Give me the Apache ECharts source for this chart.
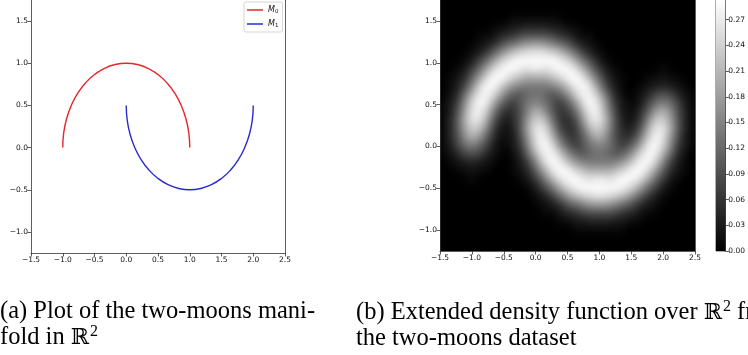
<!DOCTYPE html>
<html>
<head>
<meta charset="utf-8">
<script src="https://cdn.jsdelivr.net/npm/echarts@6/dist/echarts.min.js"></script>
<style>
  html, body { margin: 0; padding: 0; background: #fff; }
  #wrap { position: relative; width: 748px; height: 355px; overflow: hidden; }
  #heatClip { position: absolute; left: 440px; top: -3px; width: 255px; height: 254px; overflow: hidden; }
  #heat { position: absolute; left: -12px; top: -12px; width: 279px; height: 278px; background: #000; filter: blur(3.5px); }
  #chart { position: absolute; left: 0; top: 0; width: 748px; height: 355px; }
</style>
</head>
<body>
<div id="wrap">
  <div id="heatClip"><div id="heat"></div></div>
  <div id="chart"></div>
</div>
<script>
// ---- data ----
const yTicks = [-1.0, -0.5, 0.0, 0.5, 1.0, 1.5]

// moon M0 (upper) and M1 (lower), sampled every 10 degrees
const m0X = [-1, -0.985, -0.940, -0.866, -0.766, -0.643, -0.5, -0.342, -0.174, 0, 0.174, 0.342, 0.5, 0.643, 0.766, 0.866, 0.940, 0.985, 1]
const m0Y = [0, 0.174, 0.342, 0.5, 0.643, 0.766, 0.866, 0.940, 0.985, 1, 0.985, 0.940, 0.866, 0.766, 0.643, 0.5, 0.342, 0.174, 0]
const m1X = [0, 0.015, 0.060, 0.134, 0.234, 0.357, 0.5, 0.658, 0.826, 1, 1.174, 1.342, 1.5, 1.643, 1.766, 1.866, 1.940, 1.985, 2]
const m1Y = [0.5, 0.326, 0.158, 0, -0.143, -0.266, -0.366, -0.440, -0.485, -0.5, -0.485, -0.440, -0.366, -0.266, -0.143, 0, 0.158, 0.326, 0.5]

// density cells (centres), values in hundredths
const cellX = [-1.45, -1.35, -1.25, -1.15, -1.05, -0.95, -0.85, -0.75, -0.65, -0.55, -0.45, -0.35, -0.25, -0.15, -0.05,
  0.05, 0.15, 0.25, 0.35, 0.45, 0.55, 0.65, 0.75, 0.85, 0.95, 1.05, 1.15, 1.25, 1.35, 1.45,
  1.55, 1.65, 1.75, 1.85, 1.95, 2.05, 2.15, 2.25, 2.35, 2.45]
const cellY = [1.7, 1.6, 1.5, 1.4, 1.3, 1.2, 1.1, 1.0, 0.9, 0.8, 0.7, 0.6, 0.5, 0.4, 0.3, 0.2, 0.1, 0.0,
  -0.1, -0.2, -0.3, -0.4, -0.5, -0.6, -0.7, -0.8, -0.9, -1.0, -1.1, -1.2]
const densityRows = [
  [0,0,0,0,0,0,0,0,0,0,0,0,0,0,0,0,0,0,0,0,0,0,0,0,0,0,0,0,0,0,0,0,0,0,0,0,0,0,0,0],
  [0,0,0,0,0,0,0,0,0,0,0,0,0,0,0,0,0,0,0,0,0,0,0,0,0,0,0,0,0,0,0,0,0,0,0,0,0,0,0,0],
  [0,0,0,0,0,0,0,0,0,0,0,1,1,1,1,1,1,1,1,0,0,0,0,0,0,0,0,0,0,0,0,0,0,0,0,0,0,0,0,0],
  [0,0,0,0,0,0,0,0,1,1,2,3,3,4,4,4,4,3,3,2,1,1,0,0,0,0,0,0,0,0,0,0,0,0,0,0,0,0,0,0],
  [0,0,0,0,0,0,1,1,2,4,5,6,8,9,9,9,9,8,6,5,4,2,1,1,0,0,0,0,0,0,0,0,0,0,0,0,0,0,0,0],
  [0,0,0,0,0,1,2,3,5,8,11,13,15,17,18,18,17,15,13,11,8,5,3,2,1,0,0,0,0,0,0,0,0,0,0,0,0,0,0,0],
  [0,0,0,0,1,2,4,7,11,15,19,22,24,25,26,26,25,24,22,19,15,11,7,4,2,1,0,0,0,0,0,0,0,0,0,0,0,0,0,0],
  [0,0,0,1,2,5,9,13,18,23,26,28,29,29,29,29,29,29,28,26,23,18,13,9,5,2,1,0,0,0,0,0,0,0,0,0,0,0,0,0],
  [0,0,1,2,5,9,14,20,25,28,29,29,27,26,27,27,26,27,29,29,28,25,20,14,9,5,2,1,0,0,0,0,0,0,1,1,0,0,0,0],
  [0,1,2,4,8,14,20,26,29,29,27,24,22,20,20,20,20,22,24,27,29,29,26,20,14,8,4,2,1,0,0,0,1,1,2,2,1,1,0,0],
  [0,1,3,6,12,19,26,29,28,25,20,17,15,14,14,14,14,15,17,20,25,28,29,26,19,12,6,3,1,0,0,1,2,3,4,4,3,2,1,0],
  [0,2,4,10,17,24,28,28,25,19,14,11,10,12,13,13,12,10,11,14,19,25,28,28,24,17,10,4,2,0,1,2,4,7,9,9,7,4,2,1],
  [1,3,6,13,21,27,29,26,19,13,9,7,10,13,15,15,13,10,7,9,13,19,26,29,27,21,13,6,3,1,1,3,7,11,14,14,11,7,3,1],
  [1,3,8,15,23,28,27,22,14,8,5,6,9,14,19,20,16,11,7,6,9,14,22,27,28,23,15,8,3,2,2,5,10,16,20,19,14,8,4,1],
  [1,4,9,17,24,27,25,18,10,5,3,5,9,16,22,24,21,14,8,5,6,10,18,25,27,24,17,9,4,2,3,7,14,21,24,22,16,9,4,1],
  [1,4,9,16,22,24,21,14,7,3,2,4,9,17,24,27,25,18,10,6,5,8,14,21,24,22,16,9,5,3,5,10,18,25,27,24,17,9,4,1],
  [1,4,8,14,19,20,16,10,5,2,2,3,8,15,23,28,27,22,14,9,6,7,11,16,20,19,14,9,6,5,8,14,22,27,28,23,15,8,3,1],
  [1,3,7,11,14,14,11,7,3,1,1,3,6,13,21,27,29,26,19,13,9,7,10,13,15,15,13,10,7,9,13,19,26,29,27,21,13,6,3,1],
  [1,2,4,7,9,9,7,4,2,1,0,2,4,10,17,24,28,28,25,19,14,11,10,12,13,13,12,10,11,14,19,25,28,28,24,17,10,4,2,0],
  [0,1,2,3,4,4,3,2,1,0,0,1,3,6,12,19,26,29,28,25,20,17,15,14,14,14,14,15,17,20,25,28,29,26,19,12,6,3,1,0],
  [0,0,1,1,2,2,1,1,0,0,0,1,2,4,8,14,20,26,29,29,27,24,22,20,20,20,20,22,24,27,29,29,26,20,14,8,4,2,1,0],
  [0,0,0,0,1,1,0,0,0,0,0,0,1,2,5,9,14,20,25,28,29,29,27,26,27,27,26,27,29,29,28,25,20,14,9,5,2,1,0,0],
  [0,0,0,0,0,0,0,0,0,0,0,0,0,1,2,5,9,13,18,23,26,28,29,29,29,29,29,29,28,26,23,18,13,9,5,2,1,0,0,0],
  [0,0,0,0,0,0,0,0,0,0,0,0,0,0,1,2,4,7,11,15,19,22,24,25,26,26,25,24,22,19,15,11,7,4,2,1,0,0,0,0],
  [0,0,0,0,0,0,0,0,0,0,0,0,0,0,0,1,2,3,5,8,11,13,15,17,18,18,17,15,13,11,8,5,3,2,1,0,0,0,0,0],
  [0,0,0,0,0,0,0,0,0,0,0,0,0,0,0,0,1,1,2,4,5,6,8,9,9,9,9,8,6,5,4,2,1,1,0,0,0,0,0,0],
  [0,0,0,0,0,0,0,0,0,0,0,0,0,0,0,0,0,0,1,1,2,3,3,4,4,4,4,3,3,2,1,1,0,0,0,0,0,0,0,0],
  [0,0,0,0,0,0,0,0,0,0,0,0,0,0,0,0,0,0,0,0,0,1,1,1,1,1,1,1,1,0,0,0,0,0,0,0,0,0,0,0],
  [0,0,0,0,0,0,0,0,0,0,0,0,0,0,0,0,0,0,0,0,0,0,0,0,0,0,0,0,0,0,0,0,0,0,0,0,0,0,0,0],
  [0,0,0,0,0,0,0,0,0,0,0,0,0,0,0,0,0,0,0,0,0,0,0,0,0,0,0,0,0,0,0,0,0,0,0,0,0,0,0,0]
]
const densityMax = 0.293

const densityData = []
densityRows.forEach((row, j) => {
  row.forEach((v, i) => densityData.push([cellX[i], cellY[j], v / 100]))
})

// ---- density layer (drawn under the axes, softened like imshow) ----
const heat = echarts.init(document.getElementById('heat'))
heat.setOption({
  animation: false,
  backgroundColor: '#000',
  grid: { left: 12, right: 12, top: 12, bottom: 12 },
  xAxis: { type: 'value', min: -1.5, max: 2.5, show: false },
  yAxis: { type: 'value', min: -1.25, max: 1.75, show: false },
  visualMap: {
    show: false, type: 'continuous', dimension: 2,
    min: 0, max: densityMax, inRange: { color: ['#000000', '#ffffff'] }
  },
  series: [{
    type: 'custom',
    data: densityData,
    encode: { x: 0, y: 1 },
    renderItem: (params, api) => {
      const x = api.value(0)
      const y = api.value(1)
      const a = api.coord([x - 0.05, y + 0.05])
      const b = api.coord([x + 0.05, y - 0.05])
      return {
        type: 'rect',
        shape: { x: a[0], y: a[1], width: b[0] - a[0] + 0.6, height: b[1] - a[1] + 0.6 },
        style: { fill: api.visual('color') }
      }
    }
  }]
})

// ---- main chart: moons, axes, colorbar, captions ----
const chart = echarts.init(document.getElementById('chart'))

const tickFmt = v => (v < 0 ? '\u2212' : '') + Math.abs(v).toFixed(1)
const ink = '#333'
const labelStyle = { fontFamily: 'DejaVu Sans', fontSize: 7.5, color: '#111' }

const xAxisFor = gridIndex => ({
  type: 'value', gridIndex, min: -1.5, max: 2.5, interval: 0.5, z: 5,
  axisLine: { show: true, onZero: false, lineStyle: { color: ink, width: 0.8 } },
  axisTick: { show: true, length: 3.5, lineStyle: { color: ink, width: 0.8 } },
  axisLabel: { ...labelStyle, margin: 3, formatter: tickFmt, showMinLabel: true, showMaxLabel: true },
  splitLine: { show: false }
})
const yAxisFor = gridIndex => ({
  type: 'value', gridIndex, min: -1.25, max: 1.75, z: 5,
  axisLine: { show: true, onZero: false, lineStyle: { color: ink, width: 0.8 } },
  axisTick: { show: true, length: 3.5, customValues: yTicks, lineStyle: { color: ink, width: 0.8 } },
  axisLabel: { ...labelStyle, margin: 3, formatter: tickFmt, customValues: yTicks },
  splitLine: { show: false }
})
const rightSpine = gridIndex => ({
  type: 'value', gridIndex, min: -1.25, max: 1.75, position: 'right', z: 5,
  axisLine: { show: true, onZero: false, lineStyle: { color: ink, width: 0.8 } },
  axisTick: { show: false }, axisLabel: { show: false }, splitLine: { show: false }
})

const option = {
  animation: false,
  backgroundColor: 'transparent',
  grid: [
    { left: 31, right: 463, top: -2, bottom: 102 },
    { left: 440, right: 53, top: -3, bottom: 104 },
    { left: 716, width: 10, top: -3, bottom: 104, show: true, borderColor: ink, borderWidth: 0.8 }
  ],
  xAxis: [
    xAxisFor(0),
    xAxisFor(1),
    { type: 'category', gridIndex: 2, data: ['d'], show: false }
  ],
  yAxis: [
    yAxisFor(0),
    rightSpine(0),
    yAxisFor(1),
    rightSpine(1),
    {
      type: 'value', gridIndex: 2, min: 0, max: densityMax, interval: 0.03, position: 'right',
      axisLine: { show: true, lineStyle: { color: ink, width: 0.8 } },
      axisTick: { show: true, length: 3.5, lineStyle: { color: ink, width: 0.8 } },
      axisLabel: { ...labelStyle, margin: 3, formatter: v => v.toFixed(2), showMaxLabel: false },
      splitLine: { show: false }
    }
  ],
  legend: {
    data: ['M0', 'M1'],
    orient: 'vertical',
    left: 244, top: 2,
    icon: 'rect', itemWidth: 16, itemHeight: 1.5, itemGap: 4,
    padding: [3, 4, 3, 3],
    backgroundColor: '#fff', borderColor: '#ccc', borderWidth: 0.8, borderRadius: 2,
    formatter: name => '{m|M}{s|' + name.slice(1) + '}',
    textStyle: {
      rich: {
        m: { fontFamily: 'DejaVu Sans', fontStyle: 'italic', fontSize: 8, color: '#111', lineHeight: 10 },
        s: { fontFamily: 'DejaVu Sans', fontSize: 5.5, color: '#111', lineHeight: 10, padding: [4, 0, 0, 0] }
      }
    }
  },
  series: [
    {
      name: 'M0', type: 'line', xAxisIndex: 0, yAxisIndex: 0,
      data: m0X.map((x, i) => [x, m0Y[i]]),
      smooth: true, symbol: 'none',
      lineStyle: { color: '#e5262a', width: 1.4 }, itemStyle: { color: '#e5262a' }
    },
    {
      name: 'M1', type: 'line', xAxisIndex: 0, yAxisIndex: 0,
      data: m1X.map((x, i) => [x, m1Y[i]]),
      smooth: true, symbol: 'none',
      lineStyle: { color: '#2a2ad2', width: 1.4 }, itemStyle: { color: '#2a2ad2' }
    },
    {
      type: 'bar', xAxisIndex: 2, yAxisIndex: 4, silent: true,
      data: [densityMax], barWidth: '100%',
      itemStyle: {
        color: new echarts.graphic.LinearGradient(0, 1, 0, 0, [
          { offset: 0, color: '#000' }, { offset: 1, color: '#fff' }
        ])
      }
    }
  ],
  graphic: [
    {
      type: 'text', left: 0, top: 299,
      style: {
        text: '(a) Plot of the two-moons mani-\nfold in {bb|\u211D}{sup|2}',
        fontFamily: 'Liberation Serif', fontSize: 24.5, lineHeight: 26, fill: '#000',
        rich: {
          bb: { fontFamily: 'DejaVu Serif', fontSize: 22, lineHeight: 26 },
          sup: { fontFamily: 'Liberation Serif', fontSize: 16, lineHeight: 26, padding: [0, 0, 12, 1] }
        }
      }
    },
    {
      type: 'text', left: 356, top: 299,
      style: {
        text: '(b) Extended density function over {bb|\u211D}{sup|2} from\nthe two-moons dataset',
        fontFamily: 'Liberation Serif', fontSize: 24.5, lineHeight: 26, fill: '#000',
        rich: {
          bb: { fontFamily: 'DejaVu Serif', fontSize: 22, lineHeight: 26 },
          sup: { fontFamily: 'Liberation Serif', fontSize: 16, lineHeight: 26, padding: [0, 0, 12, 1] }
        }
      }
    }
  ]
}

chart.setOption(option)
</script>
</body>
</html>
